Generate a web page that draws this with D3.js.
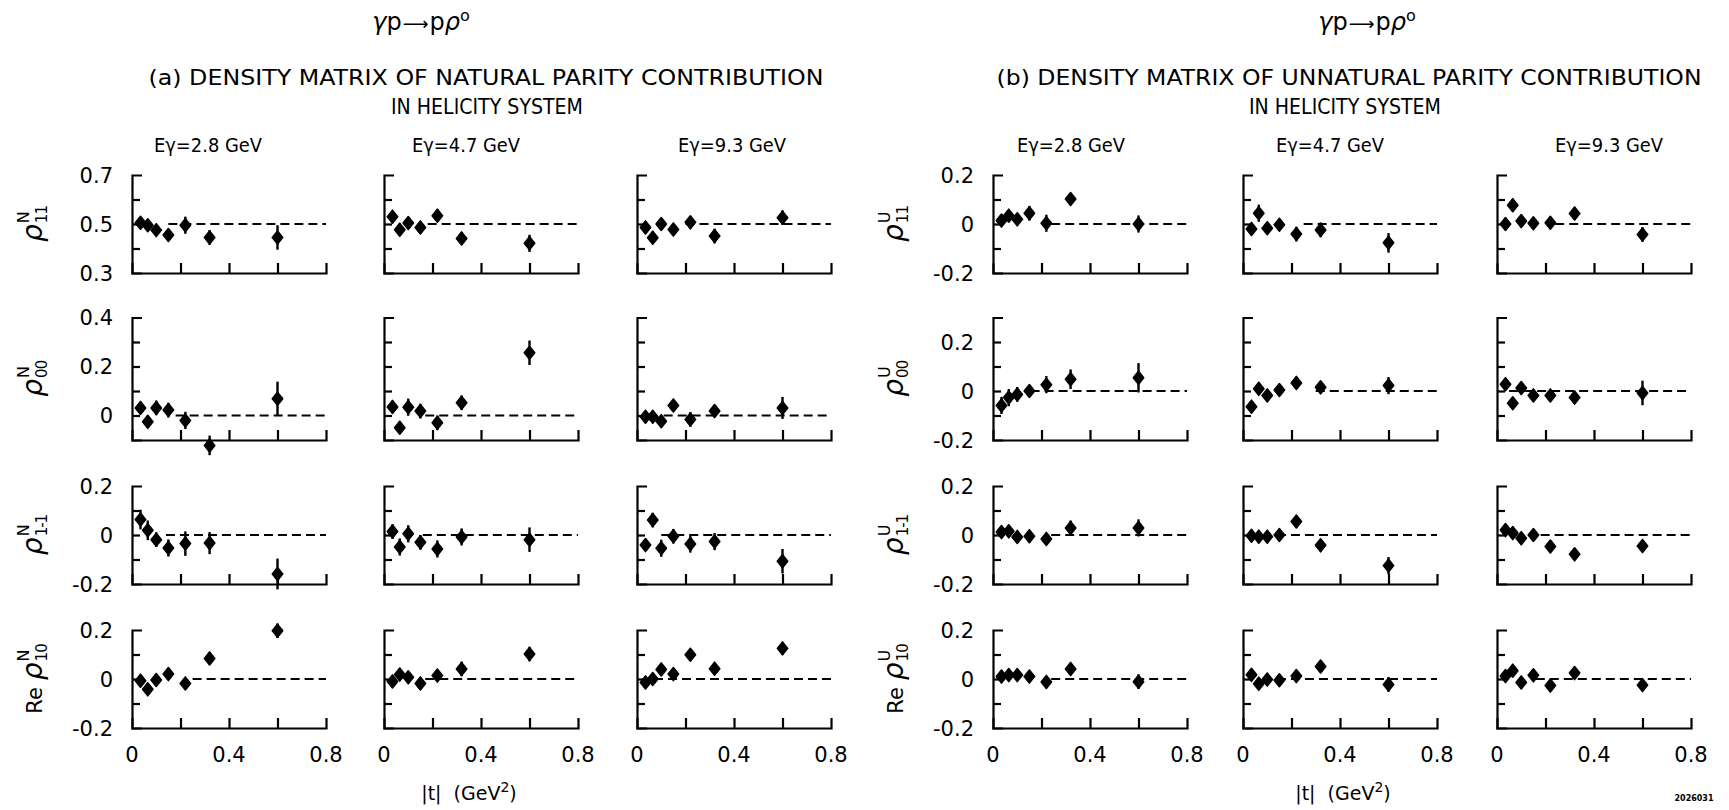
<!DOCTYPE html>
<html><head><meta charset="utf-8">
<script src="https://cdn.jsdelivr.net/npm/d3@7"></script>
<style>body{margin:0;background:#fff}svg{display:block}</style>
</head><body>
<svg id="chart" width="1729" height="810"></svg>
<script>
// ---------------- DATA ----------------
const tValues = [0.035, 0.065, 0.10, 0.15, 0.22, 0.32, 0.60];
const energyLabels = ["Eγ=2.8 GeV", "Eγ=4.7 GeV", "Eγ=9.3 GeV"];
const xTickLabels = [0, 0.4, 0.8];
const rowSubscripts = ["11", "00", "1-1", "10"];

// (a) natural parity, rows: rho11, rho00, rho1-1, Re rho10 ; cols: 2.8, 4.7, 9.3 GeV
const N11_28 = [0.505, 0.495, 0.475, 0.455, 0.495, 0.445, 0.445];
const N11_28e = [0.015, 0.02, 0.02, 0.02, 0.035, 0.03, 0.05];
const N11_47 = [0.53, 0.477, 0.504, 0.486, 0.534, 0.441, 0.421];
const N11_47e = [0.02, 0.025, 0.02, 0.02, 0.025, 0.025, 0.035];
const N11_93 = [0.486, 0.444, 0.50, 0.478, 0.507, 0.451, 0.526];
const N11_93e = [0.015, 0.025, 0.02, 0.02, 0.025, 0.03, 0.03];

const N00_28 = [0.031, -0.026, 0.031, 0.022, -0.02, -0.122, 0.068];
const N00_28e = [0.025, 0.025, 0.03, 0.03, 0.035, 0.04, 0.07];
const N00_47 = [0.035, -0.05, 0.034, 0.018, -0.03, 0.052, 0.256];
const N00_47e = [0.025, 0.025, 0.035, 0.03, 0.03, 0.03, 0.05];
const N00_93 = [-0.005, -0.005, -0.023, 0.041, -0.016, 0.018, 0.031];
const N00_93e = [0.01, 0.01, 0.02, 0.02, 0.03, 0.025, 0.045];

const N1m1_28 = [0.063, 0.019, -0.019, -0.053, -0.035, -0.033, -0.159];
const N1m1_28e = [0.04, 0.04, 0.03, 0.035, 0.05, 0.045, 0.063];
const N1m1_47 = [0.014, -0.049, 0.005, -0.03, -0.057, -0.008, -0.019];
const N1m1_47e = [0.03, 0.035, 0.035, 0.03, 0.035, 0.035, 0.05];
const N1m1_93 = [-0.041, 0.061, -0.054, -0.005, -0.037, -0.027, -0.107];
const N1m1_93e = [0.025, 0.03, 0.035, 0.03, 0.035, 0.035, 0.05];

const N10_28 = [-0.007, -0.042, -0.004, 0.02, -0.018, 0.084, 0.197];
const N10_28e = [0.02, 0.02, 0.02, 0.02, 0.02, 0.025, 0.03];
const N10_47 = [-0.01, 0.018, 0.007, -0.018, 0.014, 0.041, 0.102];
const N10_47e = [0.02, 0.015, 0.02, 0.015, 0.015, 0.03, 0.03];
const N10_93 = [-0.014, 0.0, 0.039, 0.02, 0.099, 0.042, 0.125];
const N10_93e = [0.015, 0.015, 0.015, 0.015, 0.015, 0.015, 0.025];

// (b) unnatural parity
const U11_28 = [0.014, 0.034, 0.019, 0.044, 0.003, 0.102, 0.0];
const U11_28e = [0.015, 0.02, 0.015, 0.03, 0.035, 0.025, 0.035];
const U11_47 = [-0.02, 0.044, -0.017, -0.003, -0.041, -0.024, -0.077];
const U11_47e = [0.02, 0.035, 0.015, 0.015, 0.03, 0.03, 0.04];
const U11_93 = [0.0, 0.077, 0.012, 0.003, 0.005, 0.043, -0.043];
const U11_93e = [0.012, 0.025, 0.015, 0.015, 0.02, 0.025, 0.03];

const U00_28 = [-0.059, -0.027, -0.014, 0.0, 0.026, 0.048, 0.054];
const U00_28e = [0.035, 0.035, 0.03, 0.025, 0.035, 0.04, 0.06];
const U00_47 = [-0.064, 0.009, -0.018, 0.004, 0.033, 0.015, 0.022];
const U00_47e = [0.015, 0.015, 0.015, 0.015, 0.025, 0.025, 0.035];
const U00_93 = [0.028, -0.05, 0.012, -0.018, -0.018, -0.027, -0.008];
const U00_93e = [0.012, 0.015, 0.02, 0.015, 0.02, 0.025, 0.05];

const U1m1_28 = [0.012, 0.015, -0.008, -0.005, -0.016, 0.029, 0.029];
const U1m1_28e = [0.015, 0.015, 0.015, 0.02, 0.025, 0.03, 0.035];
const U1m1_47 = [-0.003, -0.007, -0.007, 0.0, 0.055, -0.042, -0.125];
const U1m1_47e = [0.012, 0.012, 0.012, 0.012, 0.02, 0.015, 0.035];
const U1m1_93 = [0.02, 0.008, -0.013, 0.0, -0.047, -0.079, -0.045];
const U1m1_93e = [0.012, 0.02, 0.02, 0.02, 0.015, 0.015, 0.02];

const U10_28 = [0.01, 0.016, 0.016, 0.01, -0.012, 0.041, -0.011];
const U10_28e = [0.01, 0.01, 0.01, 0.01, 0.015, 0.02, 0.03];
const U10_47 = [0.017, -0.019, -0.002, -0.005, 0.012, 0.051, -0.022];
const U10_47e = [0.01, 0.012, 0.01, 0.01, 0.012, 0.02, 0.03];
const U10_93 = [0.012, 0.034, -0.014, 0.015, -0.027, 0.024, -0.025];
const U10_93e = [0.01, 0.01, 0.01, 0.01, 0.01, 0.01, 0.01];

// axis extents and tick labels
const yDomainsN = [[0.3, 0.7], [-0.1, 0.4], [-0.2, 0.2], [-0.2, 0.2]];
const yDomainsU = [[-0.2, 0.2], [-0.2, 0.3], [-0.2, 0.2], [-0.2, 0.2]];
const yTickLabelsN = [[0.3, 0.5, 0.7], [0, 0.2, 0.4], [-0.2, 0, 0.2], [-0.2, 0, 0.2]];
const yTickLabelsU = [[-0.2, 0, 0.2], [-0.2, 0, 0.2], [-0.2, 0, 0.2], [-0.2, 0, 0.2]];
const refLevelsN = [0.5, 0, 0, 0];
const refLevelsU = [0, 0, 0, 0];
// |t| where the dashed reference line begins (row x col)
const refStartN = [[0.15, 0.18, 0.2], [0.18, 0.17, 0.11], [0.14, 0.16, 0.1], [0.25, 0.17, 0.07]];
const refStartU = [[0.24, 0.25, 0.24], [0.155, 0.3, 0.05], [0.24, 0.14, 0.18], [0.24, 0.14, 0.16]];

const valuesN = [[N11_28, N11_47, N11_93], [N00_28, N00_47, N00_93], [N1m1_28, N1m1_47, N1m1_93], [N10_28, N10_47, N10_93]];
const errorsN = [[N11_28e, N11_47e, N11_93e], [N00_28e, N00_47e, N00_93e], [N1m1_28e, N1m1_47e, N1m1_93e], [N10_28e, N10_47e, N10_93e]];
const valuesU = [[U11_28, U11_47, U11_93], [U00_28, U00_47, U00_93], [U1m1_28, U1m1_47, U1m1_93], [U10_28, U10_47, U10_93]];
const errorsU = [[U11_28e, U11_47e, U11_93e], [U00_28e, U00_47e, U00_93e], [U1m1_28e, U1m1_47e, U1m1_93e], [U10_28e, U10_47e, U10_93e]];

// ---------------- LAYOUT ----------------
const svg = d3.select("#chart");
const FONT = "'DejaVu Sans', sans-serif";
const PX_Y = 245;          // pixels per unit on y
const PANEL_W = 194;
const rowTops = [175, 317.5, 486, 630];

const sides = [
  { sup: "N", colX: [132, 384, 637], values: valuesN, errors: errorsN, domains: yDomainsN,
    tickLabels: yTickLabelsN, refs: refLevelsN, refStart: refStartN,
    titleX: 421,
    head: "(a) DENSITY MATRIX OF NATURAL PARITY CONTRIBUTION", headX: 486, headW: 675,
    sub2X: 487, eX: [208, 466, 732], tX: 469 },
  { sup: "U", colX: [993, 1243, 1497], values: valuesU, errors: errorsU, domains: yDomainsU,
    tickLabels: yTickLabelsU, refs: refLevelsU, refStart: refStartU,
    titleX: 1367,
    head: "(b) DENSITY MATRIX OF UNNATURAL PARITY CONTRIBUTION", headX: 1349, headW: 705,
    sub2X: 1345, eX: [1071, 1330, 1609], tX: 1343 }
];

const fmt = v => (v === 0 ? "0" : String(v));

function styleAxis(sel) {
  sel.selectAll("path, line").attr("stroke", "#000").attr("stroke-width", 2.2).attr("fill", "none");
  sel.selectAll("text").remove();
}

sides.forEach(side => {
  // headings: γp ⟶ pρ°
  const tt = svg.append("text").attr("x", side.titleX).attr("y", 30).attr("text-anchor", "middle")
    .attr("font-family", FONT).attr("font-size", 24);
  tt.append("tspan").attr("font-style", "italic").text("γ");
  tt.append("tspan").text("p");
  tt.append("tspan").attr("font-size", 18).attr("dx", 1).text("⟶");
  tt.append("tspan").attr("dx", 1).text("p");
  tt.append("tspan").attr("font-style", "italic").text("ρ");
  tt.append("tspan").attr("font-size", 16).attr("dy", -9).text("o");

  svg.append("text").attr("x", side.headX).attr("y", 85).attr("text-anchor", "middle")
    .attr("font-family", FONT).attr("font-size", 22).attr("textLength", side.headW).attr("lengthAdjust", "spacingAndGlyphs")
    .text(side.head);
  svg.append("text").attr("x", side.sub2X).attr("y", 114).attr("text-anchor", "middle")
    .attr("font-family", FONT).attr("font-size", 22).attr("textLength", 192).attr("lengthAdjust", "spacingAndGlyphs")
    .text("IN HELICITY SYSTEM");
  energyLabels.forEach((lab, c) => {
    svg.append("text").attr("x", side.eX[c]).attr("y", 152).attr("text-anchor", "middle")
      .attr("font-family", FONT).attr("font-size", 20).attr("textLength", 108).attr("lengthAdjust", "spacingAndGlyphs")
      .text(lab);
  });
  // |t| label
  const tl = svg.append("text").attr("x", side.tX).attr("y", 800).attr("text-anchor", "middle")
    .attr("font-family", FONT).attr("font-size", 19);
  tl.append("tspan").text("|t|\u00A0\u00A0(GeV");
  tl.append("tspan").attr("font-size", 14).attr("dy", -8).text("2");
  tl.append("tspan").attr("dy", 8).text(")");

  side.domains.forEach((dom, r) => {
    const top = rowTops[r];
    const h = (dom[1] - dom[0]) * PX_Y;
    side.colX.forEach((cx, c) => {
      const x = d3.scaleLinear().domain([0, 0.8]).range([cx, cx + PANEL_W]);
      const y = d3.scaleLinear().domain(dom).range([top + h, top]);
      const g = svg.append("g");
      const n0 = Math.round(dom[0] * 10), n1 = Math.round(dom[1] * 10);
      const minor = d3.range(n0 + 1, n1).map(k => k / 10);
      g.append("g").attr("transform", `translate(${x(0)},0)`)
        .call(d3.axisLeft(y).tickValues(minor).tickSize(-8).tickSizeOuter(-10).tickFormat(""))
        .call(styleAxis);
      g.append("g").attr("transform", `translate(0,${y(dom[0])})`)
        .call(d3.axisBottom(x).tickValues([0.2, 0.4, 0.6]).tickSize(-10).tickSizeOuter(-10).tickFormat(""))
        .call(styleAxis);
      // dashed reference line
      g.append("line").attr("x1", x(side.refStart[r][c])).attr("x2", x(0.8))
        .attr("y1", y(side.refs[r])).attr("y2", y(side.refs[r]))
        .attr("stroke", "#000").attr("stroke-width", 2).attr("stroke-dasharray", "9,5");
      const vals = side.values[r][c], errs = side.errors[r][c];
      const pts = tValues.map((t, i) => ({ t, v: vals[i], e: errs[i] }));
      g.selectAll(".eb").data(pts).enter().append("line")
        .attr("x1", d => x(d.t)).attr("x2", d => x(d.t))
        .attr("y1", d => y(d.v - d.e)).attr("y2", d => y(d.v + d.e))
        .attr("stroke", "#000").attr("stroke-width", 2.4);
      g.selectAll(".mk").data(pts).enter().append("path")
        .attr("d", "M0,-6.5L5.2,0L0,6.5L-5.2,0Z")
        .attr("transform", d => `translate(${x(d.t)},${y(d.v)})`)
        .attr("fill", "#000").attr("stroke", "#000").attr("stroke-width", 1.6).attr("stroke-linejoin", "round");
      // y tick labels only in first column
      if (c === 0) {
        side.tickLabels[r].forEach(v => {
          g.append("text").attr("x", x(0) - 19).attr("y", y(v)).attr("dy", "0.36em")
            .attr("text-anchor", "end").attr("font-family", FONT).attr("font-size", 21)
            .text(fmt(v));
        });
        // rotated y label
        const lg = svg.append("g").attr("transform", `translate(${x(0) - 90},${top + h / 2}) rotate(-90)`);
        let items = [], gaps = [];
        if (r === 3) { items.push(lg.append("text").attr("font-family", FONT).attr("font-size", 21).text("Re")); gaps.push(7); }
        const rho = lg.append("text").attr("font-family", FONT).attr("font-size", 28).attr("font-style", "italic").text("ρ");
        items.push(rho); gaps.push(1);
        const supT = lg.append("text").attr("font-family", FONT).attr("font-size", 16).attr("y", -13).text(side.sup);
        const subT = lg.append("text").attr("font-family", FONT).attr("font-size", 15).attr("y", 5)
          .attr("letter-spacing", -1).text(rowSubscripts[r]);
        const widths = items.map(s => s.node().getComputedTextLength());
        const sw = Math.max(supT.node().getComputedTextLength(), subT.node().getComputedTextLength());
        const total = d3.sum(widths) + d3.sum(gaps) + sw;
        let cur = -total / 2;
        items.forEach((s, i) => { s.attr("x", cur); cur += widths[i] + gaps[i]; });
        supT.attr("x", cur); subT.attr("x", cur);
      }
      // x tick labels on bottom row
      if (r === 3) {
        xTickLabels.forEach(v => {
          g.append("text").attr("x", x(v)).attr("y", 762).attr("text-anchor", "middle")
            .attr("font-family", FONT).attr("font-size", 21).text(fmt(v));
        });
      }
    });
  });
});

svg.append("text").attr("x", 1694).attr("y", 801).attr("text-anchor", "middle")
  .attr("font-family", FONT).attr("font-size", 8).attr("font-weight", "bold").text("2026031");
</script>
</body></html>
